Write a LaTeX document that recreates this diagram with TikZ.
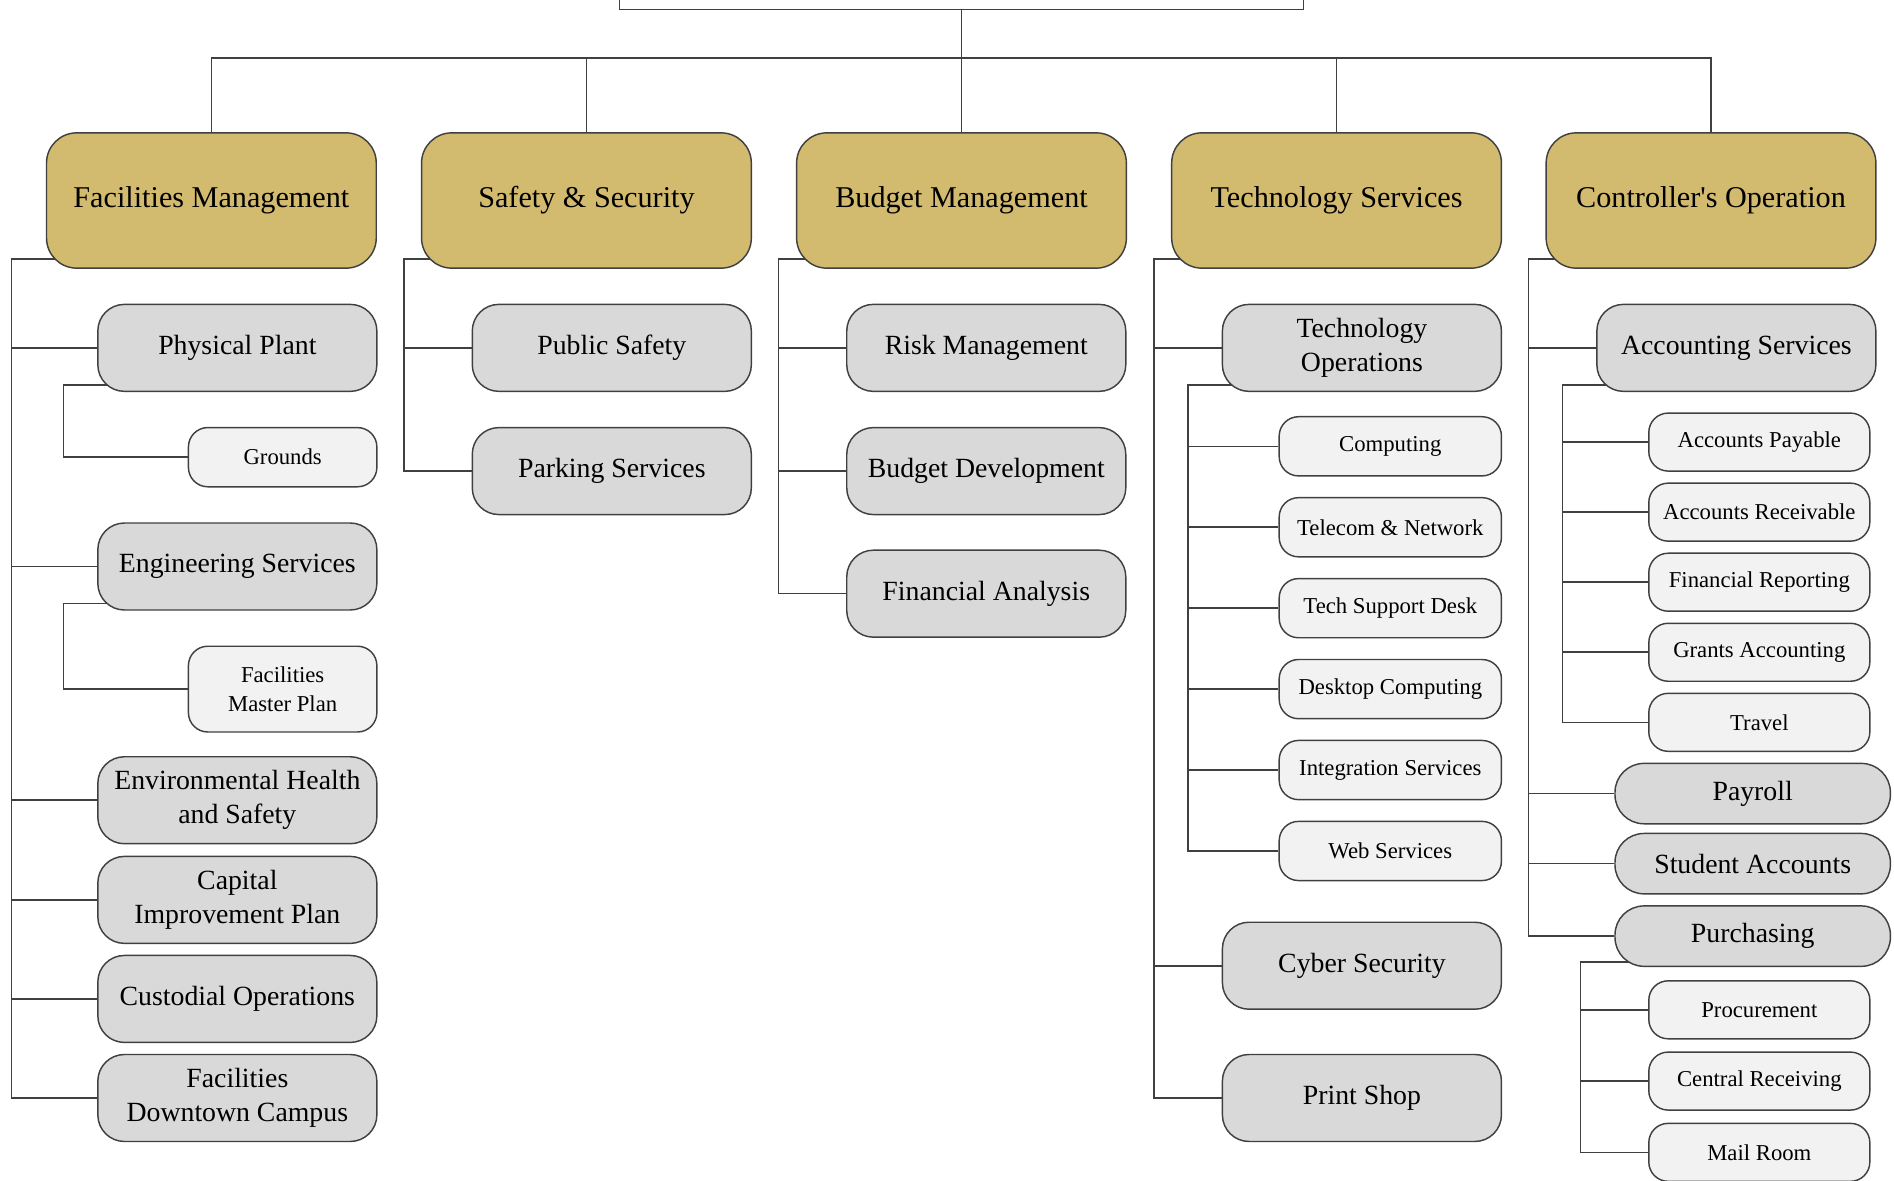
\documentclass[tikz,border=0pt]{standalone}
\usepackage{fontspec}
\setmainfont{Liberation Serif}
\usepackage{tikz}
\usetikzlibrary{positioning,backgrounds}
\definecolor{gold}{HTML}{D2BA6E}
\definecolor{unitgray}{HTML}{D9D9D9}
\definecolor{subgray}{HTML}{F2F2F2}
\definecolor{edge}{HTML}{404040}
\tikzset{
  dept/.style={draw=edge,line width=0.6pt,fill=gold,rounded corners=12.5pt,minimum width=136.5pt,minimum height=56pt,inner sep=1pt,align=center,font=\fontsize{12.5}{15}\selectfont},
  unit/.style={draw=edge,line width=0.6pt,fill=unitgray,rounded corners=11pt,minimum width=115.5pt,minimum height=36pt,inner sep=1pt,align=center,font=\fontsize{11.5}{14}\selectfont},
  office/.style={unit,rounded corners=12pt,minimum width=114pt,minimum height=25pt},
  subunit/.style={draw=edge,line width=0.6pt,fill=subgray,rounded corners=8pt,minimum width=92pt,minimum height=24.5pt,inner sep=1pt,align=center,font=\fontsize{9.4}{12}\selectfont},
  link/.style={draw=edge,line width=0.65pt}
}

\begin{document}
\begin{tikzpicture}[x=0.5pt,y=-0.5pt]
  \useasboundingbox (0,0) rectangle (1568,977);
  \node[draw=edge,line width=0.6pt,minimum width=283pt,minimum height=38pt](root) at (796,-30) {};

  \node[dept](fm) at (175,166)    {Facilities Management};
  \node[dept](ss) at (485.5,166)  {Safety \& Security};
  \node[dept](bm) at (796,166)    {Budget Management};
  \node[dept](ts) at (1106.5,166) {Technology Services};
  \node[dept](co) at (1416.5,166) {Controller\textquotesingle s Operation};

  \node[unit](pp)  at (196.5,288) {Physical Plant};
  \node[subunit,minimum width=78pt](gr) at (234,378.5) {Grounds};
  \node[unit](es)  at (196.5,469) {Engineering Services};
  \node[subunit,minimum width=78pt,minimum height=35.5pt](fmp) at (234,570.5) {Facilities\\Master Plan};
  \node[unit](ehs) at (196.5,662.5) {Environmental Health\\and Safety};
  \node[unit](cip) at (196.5,745) {Capital\\Improvement Plan};
  \node[unit](cu)  at (196.5,827) {Custodial Operations};
  \node[unit](fdc) at (196.5,909) {Facilities\\Downtown Campus};

  \node[unit](ps) at (506.5,288) {Public Safety};
  \node[unit](pk) at (506.5,390) {Parking Services};

  \node[unit](rm) at (816.5,288)   {Risk Management};
  \node[unit](bd) at (816.5,390)   {Budget Development};
  \node[unit](fa) at (816.5,491.5) {Financial Analysis};

  \node[unit](to)    at (1127.5,288) {Technology\\Operations};
  \node[subunit](cp) at (1151,369.5) {Computing};
  \node[subunit](tn) at (1151,436.5) {Telecom \& Network};
  \node[subunit](sd) at (1151,503.5) {Tech Support Desk};
  \node[subunit](dc) at (1151,570.5) {Desktop Computing};
  \node[subunit](is) at (1151,637.5) {Integration Services};
  \node[subunit](ws) at (1151,704.5) {Web Services};
  \node[unit](cs)    at (1127.5,799.5) {Cyber Security};
  \node[unit](psh)   at (1127.5,909) {Print Shop};

  \node[unit](acc) at (1437.5,288) {Accounting Services};
  \node[subunit,minimum width=91.5pt,minimum height=24pt](ap) at (1456.5,366) {Accounts Payable};
  \node[subunit,minimum width=91.5pt,minimum height=24pt](ar) at (1456.5,424) {Accounts Receivable};
  \node[subunit,minimum width=91.5pt,minimum height=24pt](fr) at (1456.5,482) {Financial Reporting};
  \node[subunit,minimum width=91.5pt,minimum height=24pt](ga) at (1456.5,540) {Grants Accounting};
  \node[subunit,minimum width=91.5pt,minimum height=24pt](tr) at (1456.5,598) {Travel};
  \node[office](pay) at (1451,657) {Payroll};
  \node[office](sa)  at (1451,715) {Student Accounts};
  \node[office](pu)  at (1451,775) {Purchasing};
  \node[subunit,minimum width=91.5pt,minimum height=24pt](pr) at (1456.5,836) {Procurement};
  \node[subunit,minimum width=91.5pt,minimum height=24pt](cr) at (1456.5,895) {Central Receiving};
  \node[subunit,minimum width=91.5pt,minimum height=24pt](mr) at (1456.5,954) {Mail Room};

  \begin{scope}[on background layer]
    \coordinate (bus) at (796,48);
    \draw[link] (root) -- (bm);
    \draw[link] (fm.north) |- (bus) -| (co.north);
    \foreach \d in {ss,ts} \draw[link] (\d.north) |- (bus);

    \draw[link] ([xshift=8pt,yshift=4pt]fm.south west) -| ([xshift=-35.5pt]fdc.west) -- (fdc.west);
    \foreach \u in {pp,es,ehs,cip,cu} \draw[link] (\u.west) -- ++(-35.5pt,0);
    \draw[link] ([xshift=8pt,yshift=3pt]pp.south west) -| ([xshift=-51.5pt]gr.west) -- (gr.west);
    \draw[link] ([xshift=8pt,yshift=3pt]es.south west) -| ([xshift=-51.5pt]fmp.west) -- (fmp.west);

    \draw[link] ([xshift=8pt,yshift=4pt]ss.south west) -| ([xshift=-28pt]pk.west) -- (pk.west);
    \draw[link] (ps.west) -- ++(-28pt,0);

    \draw[link] ([xshift=8pt,yshift=4pt]bm.south west) -| ([xshift=-28pt]fa.west) -- (fa.west);
    \foreach \u in {rm,bd} \draw[link] (\u.west) -- ++(-28pt,0);

    \draw[link] ([xshift=8pt,yshift=4pt]ts.south west) -| ([xshift=-28pt]psh.west) -- (psh.west);
    \foreach \u in {to,cs} \draw[link] (\u.west) -- ++(-28pt,0);
    \draw[link] ([xshift=8pt,yshift=3pt]to.south west) -| ([xshift=-37.5pt]ws.west) -- (ws.west);
    \foreach \u in {cp,tn,sd,dc,is} \draw[link] (\u.west) -- ++(-37.5pt,0);

    \draw[link] ([xshift=8pt,yshift=4pt]co.south west) -| ([xshift=-35.5pt]pu.west) -- (pu.west);
    \draw[link] (acc.west) -- ++(-28pt,0);
    \foreach \u in {pay,sa} \draw[link] (\u.west) -- ++(-35.5pt,0);
    \draw[link] ([xshift=8pt,yshift=3pt]acc.south west) -| ([xshift=-35.5pt]tr.west) -- (tr.west);
    \foreach \u in {ap,ar,fr,ga} \draw[link] (\u.west) -- ++(-35.5pt,0);
    \draw[link] ([xshift=8pt,yshift=2pt]pu.south west) -| ([xshift=-28pt]mr.west) -- (mr.west);
    \foreach \u in {pr,cr} \draw[link] (\u.west) -- ++(-28pt,0);
  \end{scope}
\end{tikzpicture}
\end{document}
